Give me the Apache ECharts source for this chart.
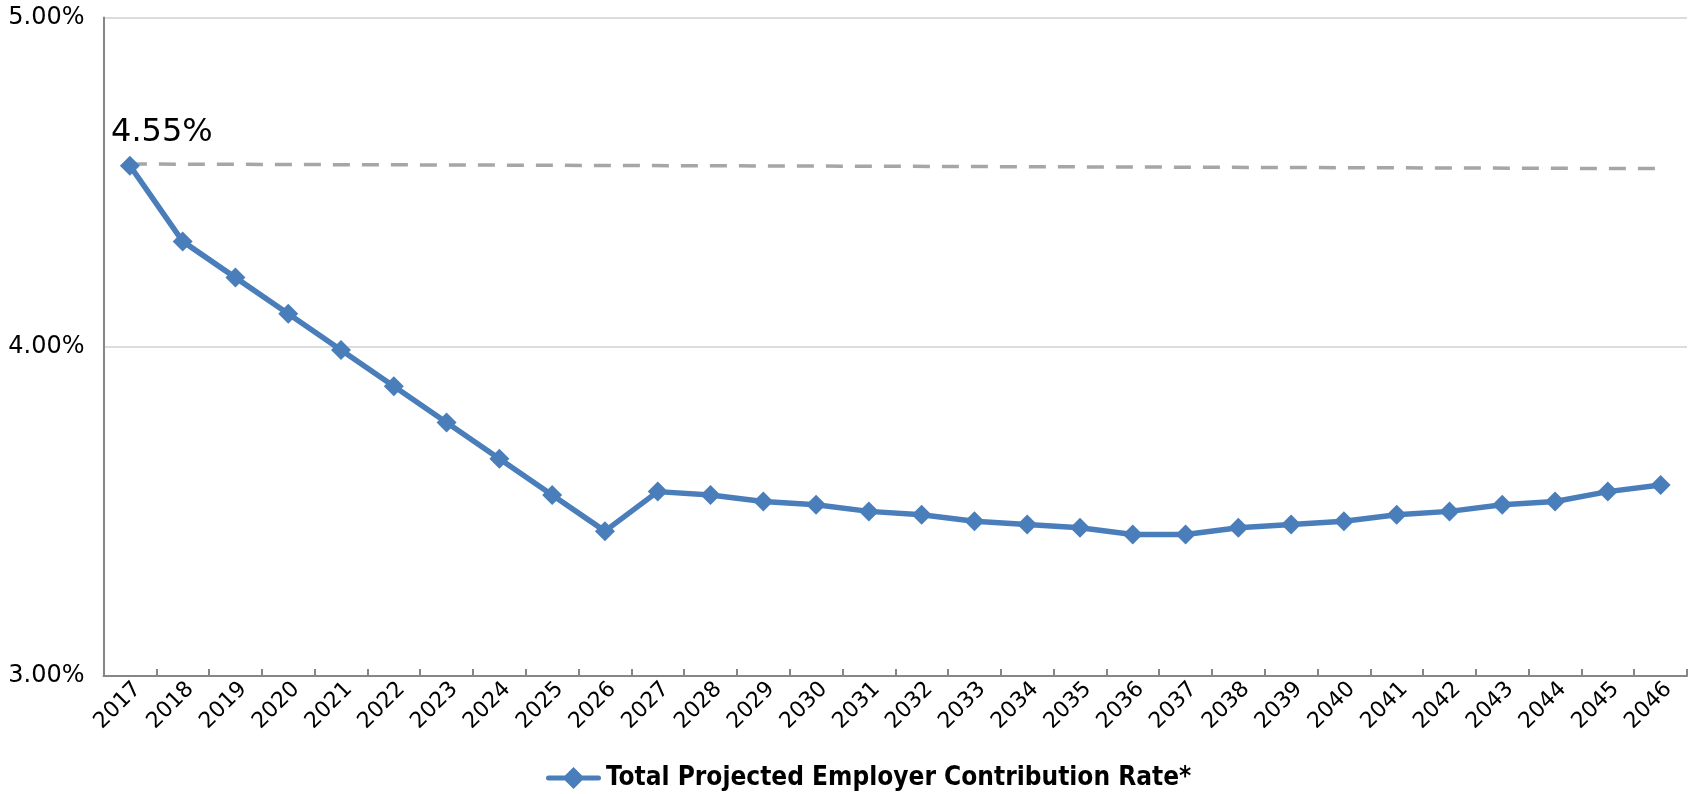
<!DOCTYPE html>
<html>
<head>
<meta charset="utf-8">
<script src="https://cdn.jsdelivr.net/npm/echarts@6/dist/echarts.min.js"></script>
<style>
  html, body { margin: 0; padding: 0; background: #ffffff; }
  #chart { width: 1696px; height: 794px; }
</style>
</head>
<body>
<div id="chart"></div>
<script>
// Projection years on the category axis
const years = ['2017','2018','2019','2020','2021','2022','2023','2024','2025','2026',
               '2027','2028','2029','2030','2031','2032','2033','2034','2035','2036',
               '2037','2038','2039','2040','2041','2042','2043','2044','2045','2046'];

// Total projected employer contribution rate, in percent
const employerRate = [4.55, 4.32, 4.21, 4.10, 3.99, 3.88, 3.77, 3.66, 3.55, 3.44,
                      3.56, 3.55, 3.53, 3.52, 3.50, 3.49, 3.47, 3.46, 3.45, 3.43,
                      3.43, 3.45, 3.46, 3.47, 3.49, 3.50, 3.52, 3.53, 3.56, 3.58];

// Starting-rate reference line (first and last year)
const startingRateLine = [4.555, 4.541];

// Value axis range and step, in percent
const yTicks = { min: 3, max: 5, step: 1 };

const seriesName = 'Total Projected Employer Contribution Rate*';
const blue = '#4a7ebb';

// Legend key: thick line with a diamond in the middle
const legendIcon = 'path://M2.5,9 L52.5,9 A2.5,2.5 0 0 1 52.5,14 L2.5,14 A2.5,2.5 0 0 1 2.5,9 Z ' +
                   'M27.5,0.5 L38.5,11.5 L27.5,22.5 L16.5,11.5 Z';

const chart = echarts.init(document.getElementById('chart'), null, { renderer: 'canvas' });

const lineData = employerRate.map((v, i) => i === 0
  ? { value: v, label: { show: true } }
  : v);

chart.setOption({
  animation: false,
  backgroundColor: '#ffffff',
  grid: {
    left: 103.5, right: 9, top: 17.5, bottom: 118,
    containLabel: false,
    outerBoundsMode: 'none'
  },
  legend: {
    data: [{ name: seriesName, icon: legendIcon, itemStyle: { color: blue } }],
    left: 546,
    top: 765,
    padding: 0,
    itemWidth: 55,
    itemHeight: 22,
    textStyle: {
      fontFamily: 'DejaVu Sans Condensed',
      fontWeight: 'bold',
      fontSize: 26,
      color: '#000000'
    }
  },
  xAxis: {
    type: 'category',
    data: years,
    boundaryGap: true,
    axisLine: { lineStyle: { color: '#868686', width: 2 } },
    axisTick: { show: true, inside: true, length: 7, alignWithLabel: false,
                lineStyle: { color: '#868686', width: 2 } },
    axisLabel: {
      rotate: 45,
      margin: 2,
      interval: 0,
      verticalAlign: 'top',
      fontFamily: 'DejaVu Sans',
      fontSize: 22,
      color: '#000000'
    },
    splitLine: { show: false }
  },
  yAxis: {
    type: 'value',
    min: yTicks.min,
    max: yTicks.max,
    interval: yTicks.step,
    axisLine: { show: true, lineStyle: { color: '#868686', width: 2 } },
    axisTick: { show: false },
    axisLabel: {
      margin: 19,
      fontFamily: 'DejaVu Sans',
      fontSize: 24,
      color: '#000000',
      formatter: v => v.toFixed(2) + '%'
    },
    splitLine: { show: true, lineStyle: { color: '#dcdcdc', width: 2 } }
  },
  series: [{
    name: seriesName,
    type: 'line',
    data: lineData,
    symbol: 'diamond',
    symbolSize: 20,
    z: 3,
    lineStyle: { color: blue, width: 5.5 },
    itemStyle: { color: blue },
    label: {
      show: false,
      position: 'top',
      offset: [32, -2],
      fontFamily: 'DejaVu Sans',
      fontSize: 32,
      color: '#000000',
      formatter: p => p.value.toFixed(2) + '%'
    },
    markLine: {
      silent: true,
      symbol: ['none', 'none'],
      z: 1,
      label: { show: false },
      lineStyle: { color: '#a6a6a6', width: 3.5, type: [17, 12] },
      data: [[
        { coord: [years[0], startingRateLine[0]] },
        { coord: [years[years.length - 1], startingRateLine[1]] }
      ]]
    }
  }]
});
</script>
</body>
</html>
